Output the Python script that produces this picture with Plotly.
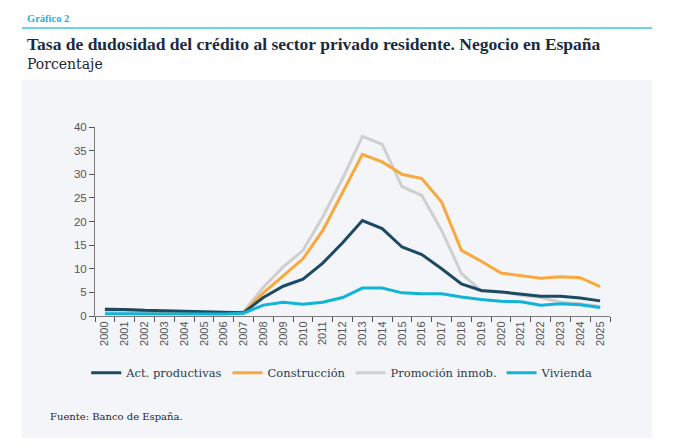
import plotly.graph_objects as go

years = [str(y) for y in range(2000, 2026)]
act_productivas = [1.4, 1.4, 1.2, 1.1, 1.0, 0.9, 0.7, 0.7, 3.9, 6.3, 7.8, 11.2, 15.5, 20.2, 18.5, 14.6,
                   13.0, 10.0, 6.8, 5.4, 5.1, 4.7, 4.2, 4.2, 3.8, 3.2]
construccion = [1.6, 1.3, 1.1, 0.9, 0.8, 0.7, 0.6, 0.7, 4.9, 8.5, 12.1, 18.1, 26.0, 34.2, 32.6, 30.0,
                29.1, 24.1, 13.9, 11.6, 9.1, 8.6, 8.0, 8.3, 8.1, 6.2]
promocion = [1.1, 1.0, 0.9, 0.8, 0.7, 0.7, 0.6, 0.9, 6.1, 10.4, 13.9, 21.0, 29.1, 38.0, 36.3, 27.4,
             25.5, 18.1, 9.0, 5.3, 5.1, 4.4, 3.9, 2.9, 2.6, 2.0]
vivienda = [0.5, 0.5, 0.4, 0.4, 0.4, 0.4, 0.4, 0.6, 2.3, 2.9, 2.5, 2.9, 3.9, 5.9, 5.9, 4.9,
            4.7, 4.7, 4.0, 3.5, 3.1, 3.0, 2.3, 2.6, 2.4, 1.8]
y_ticks = [0, 5, 10, 15, 20, 25, 30, 35, 40]

series = [
    ("Promoción inmob.", promocion, "#cfcfcf", 3),
    ("Construcción", construccion, "#f9a93b", 2),
    ("Act. productivas", act_productivas, "#1d4a63", 1),
    ("Vivienda", vivienda, "#10b4d6", 4),
]

fig = go.Figure()
for name, vals, color, rank in series:
    fig.add_trace(go.Scatter(x=years, y=vals, mode="lines", name=name,
                             line=dict(color=color, width=3), legendrank=rank))

serif = "Liberation Serif"
serif2 = "DejaVu Serif"
sans = "Liberation Sans"

fig.update_layout(
    width=700, height=448,
    margin=dict(l=95, r=90, t=127, b=132),
    paper_bgcolor="white",
    plot_bgcolor="rgba(0,0,0,0)",
    showlegend=True,
    legend=dict(orientation="h", x=0.48, xanchor="center", y=-0.30, yanchor="middle",
                font=dict(family=serif2, size=11.5, color="#2b3b4c"),
                bgcolor="rgba(0,0,0,0)", itemwidth=30, tracegroupgap=0),
    xaxis=dict(type="category", range=[-0.5, 25.5], showgrid=False,
               showline=True, linecolor="#7a7a7a", linewidth=1,
               ticks="outside", tickson="boundaries", ticklen=5, tickcolor="#555",
               tickangle=-90, tickfont=dict(family=sans, size=11, color="#555")),
    yaxis=dict(range=[0, 40], tickvals=y_ticks, showgrid=False, zeroline=False,
               showline=True, linecolor="#7a7a7a", linewidth=1,
               ticks="outside", ticklen=5, tickcolor="#555",
               tickfont=dict(family=sans, size=11.5, color="#555")),
    shapes=[
        dict(type="rect", xref="paper", yref="paper",
             x0=-73/515, x1=557/515, y0=(316-438)/189, y1=(316-80)/189,
             fillcolor="#f3f5f8", line=dict(width=0), layer="below"),
        dict(type="line", xref="paper", yref="paper",
             x0=-73/515, x1=557/515, y0=(316-28)/189, y1=(316-28)/189,
             line=dict(color="#3cc3e6", width=1.5)),
    ],
    annotations=[
        dict(text="<b>Gráfico 2</b>", xref="paper", yref="paper",
             x=-70/515, y=(316-18)/189, xanchor="left", yanchor="middle", showarrow=False,
             font=dict(family=serif, size=10.5, color="#1fb1dc")),
        dict(text="<b>Tasa de dudosidad del crédito al sector privado residente. Negocio en España</b>",
             xref="paper", yref="paper", x=-70/515, y=(316-44)/189, xanchor="left", yanchor="middle",
             showarrow=False, font=dict(family=serif, size=17.5, color="#1a2b40")),
        dict(text="Porcentaje", xref="paper", yref="paper", x=-70/515, y=(316-64)/189,
             xanchor="left", yanchor="middle", showarrow=False,
             font=dict(family=serif2, size=14, color="#1c2733")),
        dict(text="Fuente: Banco de España.", xref="paper", yref="paper", x=-47/515, y=(316-416)/189,
             xanchor="left", yanchor="middle", showarrow=False,
             font=dict(family=serif2, size=10, color="#1c2733")),
    ],
)

fig.write_html("out.html")
